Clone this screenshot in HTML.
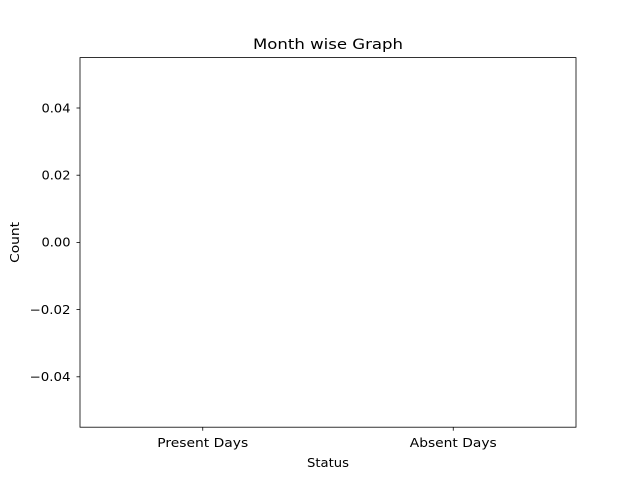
<!DOCTYPE html>
<html><head><meta charset="utf-8"><style>
body{margin:0;background:#fff;}
svg{display:block;font-family:"DejaVu Sans","Liberation Sans",sans-serif;}
</style></head><body>
<svg id="chart" width="640" height="480" viewBox="0 0 640 480">
<rect x="0" y="0" width="640" height="480" fill="#fff"/>
<text x="328" y="49" font-size="14.4" text-anchor="middle" textLength="150" lengthAdjust="spacingAndGlyphs">Month wise Graph</text>
<g id="bars"></g>
<g id="yticks"></g>
<g id="xticks"></g>
<rect x="80" y="57.6" width="496" height="369.6" fill="none" stroke="#000" stroke-width="0.8"/>
<text x="328" y="467" font-size="12" text-anchor="middle" textLength="42" lengthAdjust="spacingAndGlyphs">Status</text>
<text transform="translate(19,242.4) rotate(-90)" font-size="12" text-anchor="middle" textLength="41" lengthAdjust="spacingAndGlyphs">Count</text>
</svg>
<script>
const categories = ["Present Days", "Absent Days"];
const values = [0, 0];
const yTicks = [-0.04, -0.02, 0.00, 0.02, 0.04];
const yTickLabels = ["\u22120.04", "\u22120.02", "0.00", "0.02", "0.04"];
const xLabelWidths = [91, 87];

const L=80,R=576,T=57.6,B=427.2;
const xmin=-0.49,xmax=1.49,ymin=-0.055,ymax=0.055;
const xs=v=>L+(v-xmin)/(xmax-xmin)*(R-L);
const ys=v=>B-(v-ymin)/(ymax-ymin)*(B-T);
const NS="http://www.w3.org/2000/svg";
const bars=document.getElementById('bars');
values.forEach((v,i)=>{
  const r=document.createElementNS(NS,'rect');
  const y0=ys(Math.max(v,0)),y1=ys(Math.min(v,0));
  r.setAttribute('x',xs(i-0.4));r.setAttribute('width',xs(i+0.4)-xs(i-0.4));
  r.setAttribute('y',y0);r.setAttribute('height',y1-y0);r.setAttribute('fill','#1f77b4');
  
  
  bars.appendChild(r);
});
const yg=document.getElementById('yticks');
yTicks.forEach((t,i)=>{
  const y=ys(t);
  const l=document.createElementNS(NS,'line');
  l.setAttribute('x1',L-3.5);l.setAttribute('x2',L);l.setAttribute('y1',y);l.setAttribute('y2',y);
  l.setAttribute('stroke','#000');l.setAttribute('stroke-width','0.8');
  
  
  yg.appendChild(l);
  const tx=document.createElementNS(NS,'text');
  tx.setAttribute('x',L-9.5);tx.setAttribute('y',y+4.3);tx.setAttribute('font-size','12');tx.setAttribute('text-anchor','end');
  tx.setAttribute('textLength', yTickLabels[i].length===5 ? 41 : 29);
  tx.setAttribute('lengthAdjust','spacingAndGlyphs');
  tx.textContent=yTickLabels[i];
  
  
  yg.appendChild(tx);
});
const xg=document.getElementById('xticks');
categories.forEach((c,i)=>{
  const x=xs(i);
  const l=document.createElementNS(NS,'line');
  l.setAttribute('x1',x);l.setAttribute('x2',x);l.setAttribute('y1',B);l.setAttribute('y2',B+3.5);
  l.setAttribute('stroke','#000');l.setAttribute('stroke-width','0.8');
  
  
  xg.appendChild(l);
  const tx=document.createElementNS(NS,'text');
  tx.setAttribute('x',x);tx.setAttribute('y',B+20);tx.setAttribute('font-size','12');tx.setAttribute('text-anchor','middle');
  tx.setAttribute('textLength',xLabelWidths[i]);tx.setAttribute('lengthAdjust','spacingAndGlyphs');
  tx.textContent=c;
  
  
  xg.appendChild(tx);
});
</script>
</body></html>
